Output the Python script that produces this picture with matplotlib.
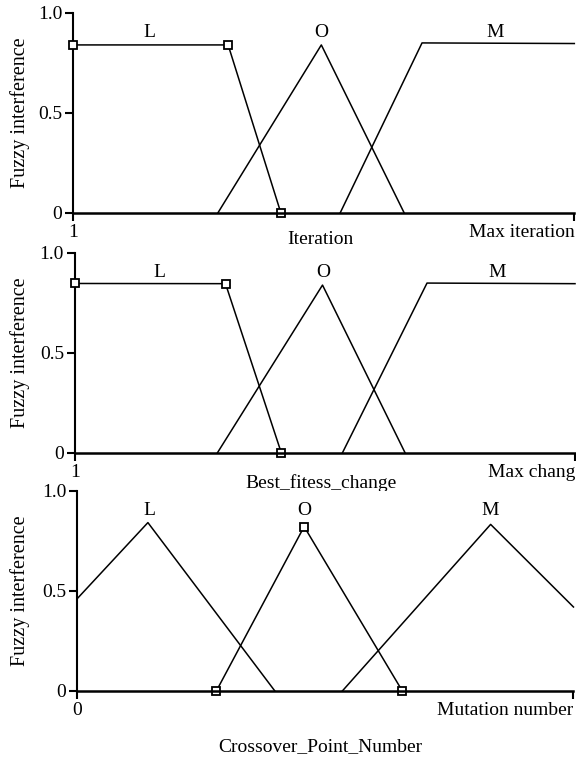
import matplotlib
matplotlib.use("Agg")
import matplotlib.pyplot as plt

plt.rcParams['font.family'] = ['Liberation Serif', 'DejaVu Serif']
plt.rcParams['font.size'] = 14

# membership functions, x as fraction of the input range
set_names = ['L', 'O', 'M']

it_x = [[0, 0.309, 0.414], [0.289, 0.495, 0.660], [0.533, 0.696, 1.0]]
it_y = [[0.838, 0.838, 0], [0, 0.838, 0], [0, 0.848, 0.845]]

bf_x = [[0, 0.301, 0.4125], [0.285, 0.495, 0.660], [0.535, 0.704, 1.0]]
bf_y = [[0.846, 0.845, 0], [0, 0.838, 0], [0, 0.848, 0.845]]

cp_x = [[0, 0.142, 0.398], [0.280, 0.457, 0.655], [0.534, 0.833, 1.0]]
cp_y = [[0.463, 0.842, 0], [0, 0.822, 0], [0, 0.833, 0.42]]

panels = [
    dict(xs=it_x, ys=it_y, marked=0, ticks=['1', 'Max iteration'],
         xlabel='Iteration', name_x=[0.152, 0.494, 0.842]),
    dict(xs=bf_x, ys=bf_y, marked=0, ticks=['1', 'Max chang'],
         xlabel='Best_fitess_change', name_x=[0.168, 0.497, 0.844]),
    dict(xs=cp_x, ys=cp_y, marked=1, ticks=['0', 'Mutation number'],
         xlabel='Crossover_Point_Number', name_x=[0.144, 0.457, 0.833]),
]

# axes boxes in figure fraction [left, bottom, width, height]
boxes = [
    [0.1273, 0.7200, 0.8698, 0.2635],
    [0.1302, 0.4036, 0.8681, 0.2635],
    [0.1345, 0.0896, 0.8611, 0.2635],
]
xlabel_pos = [(0.494, -0.135), (0.492, -0.150), (0.489, -0.280)]

fig = plt.figure(figsize=(5.76, 7.59), dpi=100)

for p, box, (lx, ly) in zip(panels, boxes, xlabel_pos):
    ax = fig.add_axes(box)
    for i, (x, y) in enumerate(zip(p['xs'], p['ys'])):
        if i == p['marked']:
            ax.plot(x, y, color='black', lw=1.1, marker='s', ms=6,
                    mfc='white', mec='black', mew=1.3, clip_on=False, zorder=4)
        else:
            ax.plot(x, y, color='black', lw=1.1, clip_on=False, zorder=3)
    for name, nx in zip(set_names, p['name_x']):
        ax.text(nx, 0.90, name, ha='center', va='center')

    ax.set_xlim(0, 1)
    ax.set_ylim(0, 1)
    ax.spines['top'].set_visible(False)
    ax.spines['right'].set_visible(False)
    ax.spines['left'].set_linewidth(1.5)
    ax.spines['bottom'].set_linewidth(1.8)
    ax.spines['bottom'].set_zorder(5)

    ax.set_yticks([0, 0.5, 1.0])
    ax.set_yticklabels(['0', '0.5', '1.0'])
    ax.set_xticks([0, 1])
    labels = ax.set_xticklabels(p['ticks'])
    labels[1].set_ha('right')
    ax.tick_params(axis='both', direction='out', length=5.5, width=1.5,
                   pad=2.5, labelsize=14)

    ax.set_ylabel('Fuzzy interference', fontsize=14.5)
    ax.yaxis.set_label_coords(-(box[0] * 576 - 20) / (box[2] * 576), 0.5)
    ax.yaxis.label.set_va('center')
    ax.set_xlabel(p['xlabel'], fontsize=14)
    ax.xaxis.set_label_coords(lx, ly)
    ax.xaxis.label.set_va('center')

fig.savefig('out.png', dpi=100)
